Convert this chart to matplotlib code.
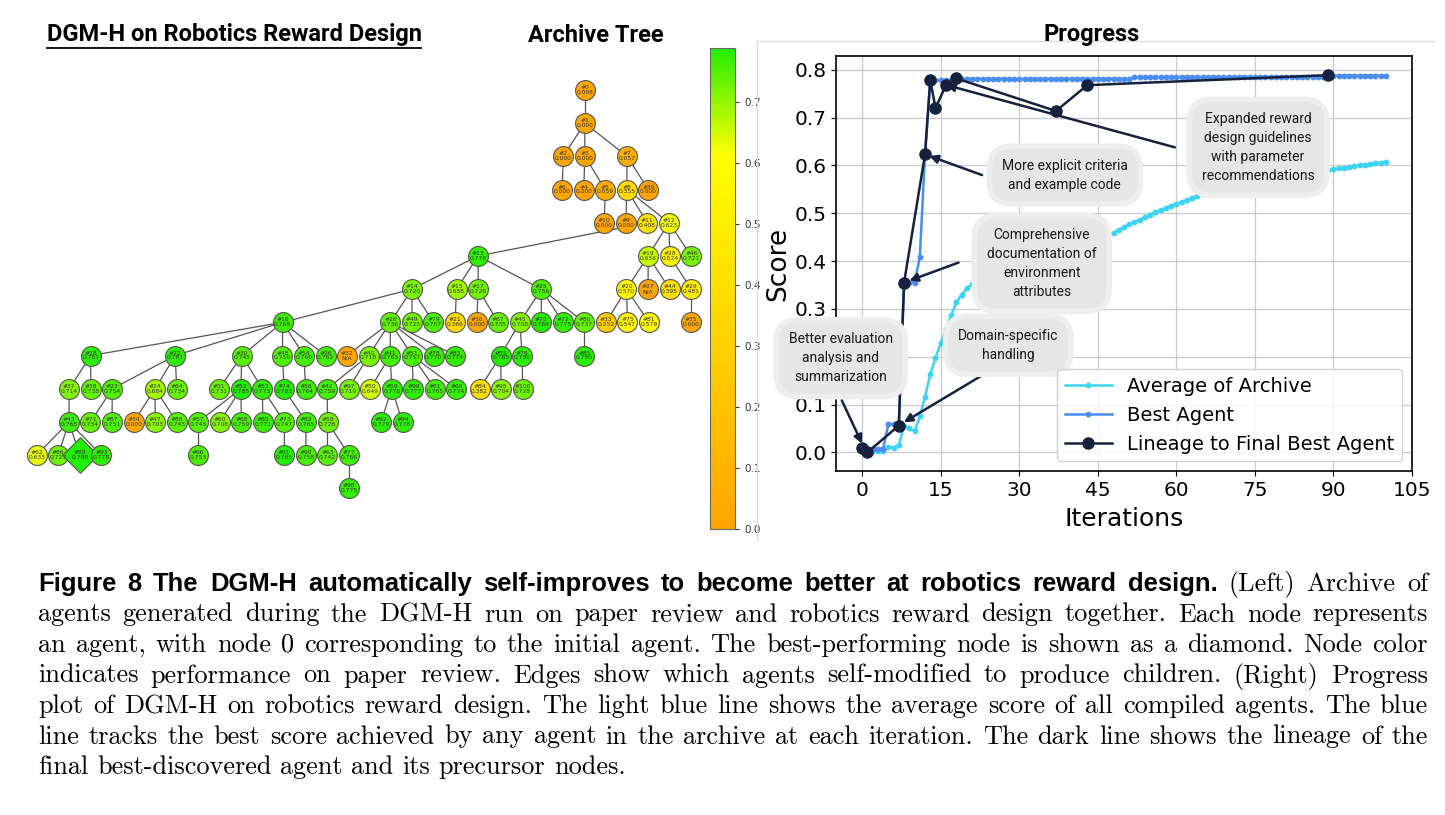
import numpy as np
import matplotlib
matplotlib.use("Agg")
import matplotlib.pyplot as plt
from matplotlib.colors import LinearSegmentedColormap, Normalize
from matplotlib.cm import ScalarMappable

# ---------------- data: archive tree (children listed in drawing order) ----------------
NODE_IDS = [0, 1, 2, 3, 7, 6, 4, 5, 8, 39, 10, 9, 11, 12, 13, 19, 28, 46,
            14, 15, 17, 25, 20, 27, 44, 29, 16, 26, 49, 79, 21, 36, 67, 45, 70, 72, 80,
            33, 75, 81, 35, 18, 22, 30, 48, 54, 96, 32, 40, 41, 51, 78, 83, 55, 76, 85,
            37, 38, 23, 24, 64, 31, 52, 53, 74, 56, 42, 97, 50, 59, 99, 61, 69, 84, 95, 100,
            43, 71, 87, 34, 47, 88, 57, 60, 68, 65, 73, 82, 58, 92, 94,
            62, 86, 89, 93, 66, 91, 90, 63, 77, 98]
PARENTS = [None, 0, 1, 1, 1, 2, 3, 3, 7, 7, 5, 8, 8, 8, 11, 12, 12, 12,
           13, 13, 13, 13, 19, 19, 19, 28, 14, 14, 14, 14, 15, 17, 17, 25, 25, 25, 25,
           20, 20, 20, 29, 16, 16, 16, 16, 16, 16, 26, 26, 26, 26, 26, 26, 45, 45, 80,
           18, 18, 22, 22, 22, 30, 30, 30, 48, 54, 40, 40, 41, 41, 51, 51, 51, 55, 55, 76,
           37, 23, 23, 24, 24, 24, 52, 52, 52, 53, 53, 74, 42, 59, 59,
           43, 43, 43, 43, 57, 73, 82, 58, 58, 77]
SCORES = [0.008, 0.000, 0.000, 0.000, 0.057, 0.000, 0.000, 0.059, 0.355, 0.000, 0.000, 0.000, 0.408, 0.623,
          0.778, 0.656, 0.524, 0.721,
          0.720, 0.688, 0.726, 0.756, 0.570, None, 0.395, 0.481,
          0.768, 0.736, 0.725, 0.757, 0.366, 0.000, 0.735, 0.708, 0.784, 0.775, 0.737,
          0.252, 0.547, 0.579, 0.000,
          0.781, 0.781, 0.745, 0.750, 0.760, 0.762, None, 0.718, 0.763, 0.757, 0.770, 0.774, 0.785, 0.780, 0.780,
          0.714, 0.738, 0.754, 0.684, 0.734, 0.731, 0.785, 0.773, 0.783, 0.764, 0.759, 0.719, 0.649, 0.778,
          0.777, 0.765, 0.774, 0.382, 0.704, 0.728,
          0.768, 0.734, 0.751, 0.000, 0.703, 0.743, 0.745, 0.708, 0.759, 0.771, 0.747, 0.765, 0.728, 0.779, 0.778,
          0.633, 0.727, 0.788, 0.778, 0.753, 0.785, 0.758, 0.742, 0.766, 0.775]

# ---------------- data: progress plot ----------------
ITERS = list(range(101))
AVG_ARCHIVE = [0.008, 0.004, 0.003, 0.002, 0.002, 0.011, 0.010, 0.016, 0.055, 0.050,
               0.044, 0.075, 0.116, 0.163, 0.198, 0.228, 0.258, 0.287, 0.314, 0.330,
               0.343, 0.352, 0.360, 0.366, 0.372, 0.378, 0.383, 0.388, 0.392, 0.396,
               0.400, 0.404, 0.408, 0.411, 0.415, 0.418, 0.421, 0.424, 0.427, 0.430,
               0.433, 0.436, 0.439, 0.442, 0.445, 0.448, 0.451, 0.455, 0.459, 0.466,
               0.471, 0.477, 0.482, 0.487, 0.492, 0.497, 0.502, 0.507, 0.511, 0.516,
               0.520, 0.524, 0.528, 0.532, 0.536, 0.540, 0.544, 0.546, 0.548, 0.550,
               0.552, 0.554, 0.556, 0.558, 0.560, 0.562, 0.564, 0.566, 0.568, 0.570,
               0.572, 0.574, 0.576, 0.578, 0.580, 0.582, 0.584, 0.586, 0.588, 0.590,
               0.592, 0.594, 0.595, 0.597, 0.599, 0.600, 0.602, 0.603, 0.605, 0.606, 0.608]
BEST_AGENT = ([0.008] * 5 + [0.059] * 3 + [0.355] * 3 + [0.408, 0.623] + [0.778] * 5
              + [0.781] * 34 + [0.785] * 37 + [0.788] * 12)
LINEAGE_ITERS = [0, 1, 7, 8, 12, 13, 14, 16, 18, 37, 43, 89]
LINEAGE_SCORES = [0.010, 0.000, 0.056, 0.355, 0.623, 0.779, 0.720, 0.768, 0.782, 0.714, 0.768, 0.789]

# bubble annotations: text, bubble centre, arrow start, arrow target (data coords)
NOTES = [
    ("Better evaluation\nanalysis and\nsummarization", (-4.1, 0.197), (-3.9, 0.109), (0.2, 0.013)),
    ("Domain-specific\nhandling", (27.9, 0.224), (23.8, 0.167), (7.5, 0.060)),
    ("Comprehensive\ndocumentation of\nenvironment\nattributes", (34.3, 0.395), (18.4, 0.397), (8.5, 0.357)),
    ("More explicit criteria\nand example code", (38.7, 0.580), (22.9, 0.580), (12.3, 0.622)),
    ("Expanded reward\ndesign guidelines\nwith parameter\nrecommendations", (75.6, 0.638), (59.7, 0.638), (15.5, 0.770)),
]

CAPTION_BOLD = "Figure 8  The DGM-H automatically self-improves to become better at robotics reward design."
CAPTION_LINES = [
    "(Left) Archive of",
    "agents generated during the DGM-H run on paper review and robotics reward design together. Each node represents",
    "an agent, with node 0 corresponding to the initial agent. The best-performing node is shown as a diamond. Node color",
    "indicates performance on paper review. Edges show which agents self-modified to produce children. (Right) Progress",
    "plot of DGM-H on robotics reward design. The light blue line shows the average score of all compiled agents. The blue",
    "line tracks the best score achieved by any agent in the archive at each iteration. The dark line shows the lineage of the",
    "final best-discovered agent and its precursor nodes.",
]

W, H = 1445, 815
fig = plt.figure(figsize=(W / 100, H / 100), dpi=100)


def fx(px):
    return px / W


def fy(py):
    return 1 - py / H


def pava(y):
    """least-squares nondecreasing fit"""
    vals, cnts = [], []
    for v in y:
        vals.append(v); cnts.append(1)
        while len(vals) > 1 and vals[-2] > vals[-1]:
            v2, c2 = vals.pop(), cnts.pop()
            vals[-1] = (vals[-1] * cnts[-1] + v2 * c2) / (cnts[-1] + c2)
            cnts[-1] += c2
    return np.repeat(vals, cnts)


def layout_tree(ids, parents):
    """Layered layout: row = depth; x minimises (smoothed) total edge length
    with the row order kept and one unit between neighbours (projected FISTA)."""
    pos = {n: k for k, n in enumerate(ids)}
    par = dict(zip(ids, parents))
    kids = {i: [] for i in ids}
    for i, p in zip(ids, parents):
        if p is not None:
            kids[p].append(i)
    root = ids[parents.index(None)]
    levels = [[root]]
    while True:
        nxt = [c for n in levels[-1] for c in kids[n]]
        if not nxt:
            break
        levels.append(nxt)
    lev = {n: d for d, lv in enumerate(levels) for n in lv}
    size = {}
    for lv in reversed(levels):
        for n in lv:
            size[n] = 1 + sum(size[c] for c in kids[n])
    rows = [np.array([pos[n] for n in lv]) for lv in levels]
    U = np.array([pos[p] for p in parents if p is not None])
    V = np.array([pos[n] for n, p in zip(ids, parents) if p is not None])
    Wt = np.array([1 + 0.2 / size[n] for n, p in zip(ids, parents) if p is not None])

    def project(z):
        z = z.copy()
        for r in rows:
            k = np.arange(len(r))
            z[r] = pava(z[r] - k) + k
        return z

    x = np.zeros(len(ids))
    for r in rows:
        x[r] = np.arange(len(r))
    for eps, n_it in [(1.0, 600), (0.3, 900), (0.1, 1500), (0.03, 2500)]:
        lr = eps / 16
        y, t = x.copy(), 1.0
        for _ in range(n_it):
            d = y[U] - y[V]
            g = Wt * d / np.sqrt(d * d + eps * eps)
            grad = np.zeros_like(y)
            np.add.at(grad, U, g)
            np.add.at(grad, V, -g)
            xn = project(y - lr * grad)
            tn = (1 + np.sqrt(1 + 4 * t * t)) / 2
            y = xn + (t - 1) / tn * (xn - x)
            x, t = xn, tn
    return {n: x[pos[n]] for n in ids}, lev, par


# ---------------- archive tree ----------------
cmap = LinearSegmentedColormap.from_list("oyg", [(0, "#ffa500"), (0.78, "#ffff00"), (1, "#22ee00")])
vals = [s if s is not None else 0.0 for s in SCORES]
norm = Normalize(0, max(vals))

xs, dep, par = layout_tree(NODE_IDS, PARENTS)
ax_t = fig.add_axes([fx(20), fy(500), (705 - 20) / W, (500 - 60) / H])
ax_t.axis("off")
xmin = min(xs.values()); xmax = max(xs.values())
ax_t.set_xlim(xmin - 17 / 22, xmax + 14 / 22)
ax_t.set_ylim(12.35, -0.9)

for n in NODE_IDS:  # edges
    p = par[n]
    if p is not None:
        ax_t.plot([xs[p], xs[n]], [dep[p], dep[n]], color="#555555", lw=0.9, zorder=1)

best_id = NODE_IDS[int(np.argmax(vals))]
for n, s, v in zip(NODE_IDS, SCORES, vals):
    mk, size = ("D", 330) if n == best_id else ("o", 205)
    ax_t.scatter(xs[n], dep[n], s=size, marker=mk, color=cmap(norm(v)),
                 edgecolors="#555555", linewidths=0.8, zorder=2)
    lab = f"#{n}\n{s:.3f}" if s is not None else f"#{n}\nN/A"
    ax_t.text(xs[n], dep[n], lab, ha="center", va="center", fontsize=4.3,
              color="#333333", linespacing=0.95, zorder=3)

cax = fig.add_axes([fx(710), fy(529), 25 / W, (529 - 48) / H])
cb = fig.colorbar(ScalarMappable(norm=norm, cmap=cmap), cax=cax)
cb.set_ticks([0.0, 0.1, 0.2, 0.3, 0.4, 0.5, 0.6, 0.7])
cb.ax.tick_params(labelsize=7.5, colors="#333333", length=3)
cb.outline.set_edgecolor("#666666")
cb.outline.set_linewidth(0.8)

# ---------------- progress plot ----------------
ax = fig.add_axes([fx(836), fy(471), (1412 - 836) / W, (471 - 56) / H])
ax.plot(ITERS, AVG_ARCHIVE, color="#3dd3f2", lw=1.8, marker="o", ms=3.2, label="Average of Archive", zorder=2)
ax.plot(ITERS, BEST_AGENT, color="#4b8cf0", lw=1.8, marker="o", ms=3.2, label="Best Agent", zorder=3)
ax.plot(LINEAGE_ITERS, LINEAGE_SCORES, color="#16213e", lw=1.8, marker="o", ms=8,
        label="Lineage to Final Best Agent", zorder=4)

for txt, ctr, start, tgt in NOTES:
    ax.annotate("", xy=tgt, xytext=start, annotation_clip=False, zorder=5,
                arrowprops=dict(arrowstyle="-|>,head_length=0.5,head_width=0.25",
                                color="#16213e", lw=1.8, shrinkA=0, shrinkB=2))
    ax.text(ctr[0], ctr[1], txt, ha="center", va="center", fontsize=10, family="Roboto",
            color="#1a1a1a", linespacing=1.45, zorder=6, clip_on=False,
            bbox=dict(boxstyle="round,pad=0.9,rounding_size=1.6", fc="#e6e6e6", ec="#eeeeee", lw=4))

ax.set_xlim(-5, 105)
ax.set_ylim(-0.039, 0.829)
ax.set_xticks(range(0, 106, 15))
ax.set_yticks(np.arange(0, 0.81, 0.1))
ax.yaxis.set_major_formatter(matplotlib.ticker.FormatStrFormatter("%.1f"))
ax.tick_params(labelsize=14.5)
ax.grid(color="#cccccc", lw=1.0)
ax.set_axisbelow(True)
for sp in ax.spines.values():
    sp.set_linewidth(1.2)
ax.set_xlabel("Iterations", fontsize=18, labelpad=5)
ax.set_ylabel("Score", fontsize=19, labelpad=2)
leg = ax.legend(loc="lower right", fontsize=14, handlelength=2.4, framealpha=0.85,
                edgecolor="#cccccc")
leg.set_zorder(10)

# light frame around the right panel
fig.add_artist(plt.Line2D([fx(757), fx(1435)], [fy(41), fy(41)], color="#dddddd", lw=1))
fig.add_artist(plt.Line2D([fx(757), fx(757)], [fy(41), fy(540)], color="#dddddd", lw=1))

# ---------------- titles ----------------
t_main = fig.text(fx(234), fy(35), "DGM-H on Robotics Reward Design", ha="center", va="center",
                  fontsize=17, fontweight="bold", family="Roboto")
fig.text(fx(596), fy(35), "Archive Tree", ha="center", va="center", fontsize=17,
         fontweight="bold", family="Roboto")
fig.text(fx(1092), fy(35), "Progress", ha="center", va="center", fontsize=17,
         fontweight="bold", family="Roboto")

r = fig.canvas.get_renderer()
bb = t_main.get_window_extent(renderer=r)
fig.add_artist(plt.Line2D([bb.x0 / W, bb.x1 / W], [(bb.y0 - 1) / H, (bb.y0 - 1) / H],
                          color="black", lw=1.3))


# ---------------- caption (justified, word by word) ----------------
def text_width(s, **pr):
    t = fig.text(0, 0, s, **pr)
    w = t.get_window_extent(renderer=r).width
    t.remove()
    return w


serif_size = 10 * 1372 / max(text_width(ln, family="cmr10", fontsize=10) for ln in CAPTION_LINES[1:6])
bold_size = 10 * 1140 / text_width(CAPTION_BOLD, family="Liberation Sans", fontsize=10, fontweight="bold")
serif = dict(family="cmr10", fontsize=serif_size)
bold = dict(family="Liberation Sans", fontsize=bold_size, fontweight="bold")
lines = [[(w, bold) for w in CAPTION_BOLD.split()] + [(w, serif) for w in CAPTION_LINES[0].split()]]
lines += [[(w, serif) for w in ln.split()] for ln in CAPTION_LINES[1:]]
x_left, x_right = 38, 1428
space = serif_size * 0.33 * 100 / 72
for i, words in enumerate(lines):
    base = 591 + 30.5 * i
    ts = [fig.text(0, fy(base), w, va="baseline", ha="left", color="black", **pr) for w, pr in words]
    widths = [t.get_window_extent(renderer=r).width for t in ts]
    last = i == len(lines) - 1
    gap = space if last else (x_right - x_left - sum(widths)) / (len(ts) - 1)
    pos = x_left
    for t, wd in zip(ts, widths):
        t.set_x(fx(pos))
        pos += wd + gap

fig.savefig("out.png", dpi=100)
